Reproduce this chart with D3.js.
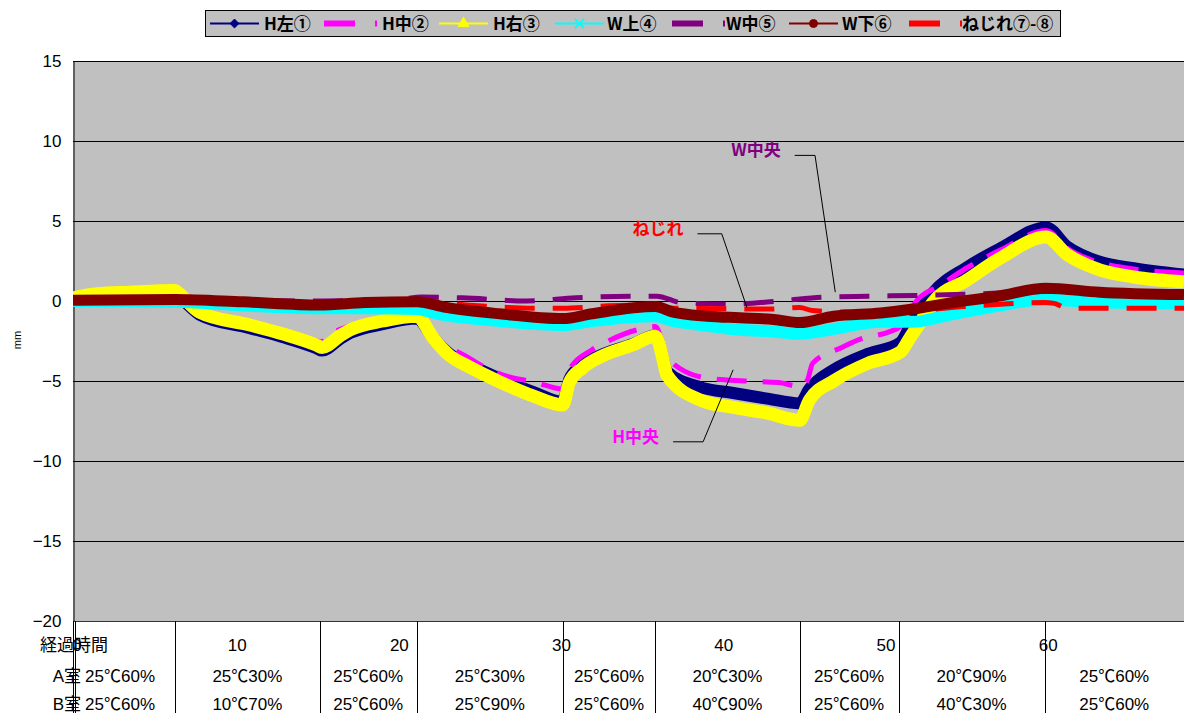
<!DOCTYPE html>
<html>
<head>
<meta charset="utf-8">
<script src="https://cdn.jsdelivr.net/npm/d3@7"></script>
<style>
  body { margin: 0; background: #fff; }
  svg { display: block; }
  .num { font-family: "Liberation Sans", "Noto Sans CJK JP", sans-serif; font-size: 17px; }
  .jp { font-family: "Noto Sans CJK JP", sans-serif; font-weight: bold; font-size: 17px; }
</style>
</head>
<body>
<div id="chart"></div>
<script>
// ---- data: [elapsed time, displacement mm] ----
const hLeft = [[0,0.15],[3,0.3],[6.3,0.35],[6.5,0.25],[7.8,-0.85],[10.9,-1.7],[12.9,-2.25],[15,-2.95],[15.35,-3.1],[16.5,-2.35],[17.1,-2.0],[19.1,-1.45],[21.2,-1.1],
  [22.2,-2.3],[23.2,-3.3],[24.3,-3.9],[26.3,-4.85],[28.4,-5.7],[30.2,-6.3],[30.6,-4.9],[31.4,-4.0],[32.5,-3.4],[34.5,-2.7],[35.9,-2.15],
  [36.5,-4.1],[36.6,-4.4],[38.7,-5.4],[40.7,-5.75],[42.8,-6.1],[44.8,-6.4],[45.4,-5.5],[46.9,-4.3],[49,-3.3],[51,-2.6],[51.6,-1.6],
  [52.2,-0.6],[53,0.5],[55.1,2.1],[57.2,3.3],[60,4.6],[61.3,3.4],[63.3,2.45],[65.4,2.05],[68.5,1.65]];
const hMid = [[0,0.1],[6.3,0.3],[6.5,0.3],[7.8,-0.5],[10.9,-1.3],[12.9,-1.85],[15,-2.5],[15.3,-2.55],[16,-2.0],[17.1,-1.55],[19.1,-1.05],[21.2,-0.8],
  [22.6,-2.45],[24.3,-3.5],[25.3,-4.1],[26.9,-4.75],[28.4,-5.05],[30.2,-5.5],[30.6,-4.3],[32,-3.05],[33.1,-2.45],[34.8,-1.8],[35.9,-1.6],
  [36.6,-3.4],[37.4,-4.2],[39.3,-4.85],[41.4,-5.0],[43.5,-5.1],[44.9,-5.35],[45.3,-4.9],[45.6,-3.9],[47.4,-2.9],[48.5,-2.4],[50.4,-1.9],[51,-1.6],
  [52,0.0],[53.5,1.0],[55,2.0],[57.2,3.2],[60,4.4],[61.3,3.3],[63.3,2.4],[65.4,2.0],[68.5,1.75]];
const hRight = [[0,0.2],[1.5,0.45],[3.5,0.55],[6.3,0.65],[6.5,0.5],[7.8,-0.7],[10.9,-1.5],[12.9,-2.05],[15,-2.75],[15.35,-2.9],[16.5,-2.15],[17.1,-1.8],[19.1,-1.25],[21.2,-0.95],
  [22.2,-2.3],[23.2,-3.4],[24.3,-4.05],[26.3,-5.05],[28.4,-5.95],[30.2,-6.5],[30.6,-5.1],[31.4,-4.2],[32.5,-3.5],[34.5,-2.75],[35.9,-2.2],
  [36.5,-4.2],[36.6,-4.6],[38.7,-6.2],[40.7,-6.65],[42.8,-7.0],[44.8,-7.45],[45.4,-6.2],[46.9,-5.0],[49,-3.9],[51,-3.2],[51.6,-2.3],
  [52.2,-1.4],[53,-0.1],[55.1,1.3],[57.2,2.7],[60,4.0],[61.3,2.9],[63.3,1.95],[65.4,1.5],[68.5,1.2]];
const wTop = [[0,0.0],[6.3,-0.05],[10,-0.25],[15.2,-0.45],[18,-0.45],[21.2,-0.5],[22.5,-0.8],[26.3,-1.25],[30.2,-1.5],[32,-1.25],[35.9,-0.95],
  [37,-1.25],[39.1,-1.55],[41.1,-1.8],[43.2,-1.9],[44.8,-2.05],[46.9,-1.75],[49.8,-1.3],[51.8,-1.3],[53.9,-0.9],[57,-0.3],[60,0.1],[63.3,-0.1],[68.5,-0.15]];
const wMid = [[0,0.0],[6.3,0.1],[15.2,0.0],[20,0.1],[21.5,0.25],[24,0.2],[28,0.0],[31,0.2],[35,0.3],[36,0.3],[37.5,-0.1],[40.5,-0.2],
  [43.5,0.0],[46.5,0.25],[49,0.3],[52,0.35],[56,0.45],[60,0.6],[68.5,0.5]];
const wBottom = [[0,0.05],[6.3,0.1],[10.5,-0.05],[15.2,-0.25],[18,-0.1],[21.2,-0.05],[23,-0.4],[26.3,-0.8],[30.2,-1.1],[32,-0.8],[35.9,-0.35],
  [37,-0.7],[39.1,-0.95],[41.1,-1.05],[43.2,-1.15],[44.8,-1.35],[46.9,-0.95],[49.8,-0.75],[51.8,-0.5],[53.9,-0.15],[57,0.3],[60,0.8],[63.3,0.55],[68.5,0.4]];
const twist = [[0,0.0],[6.3,0.05],[15.2,-0.1],[21.2,0.0],[25,-0.3],[28.4,-0.45],[30.2,-0.45],[33,-0.3],[35.9,-0.25],[37,-0.45],[43,-0.5],
  [44.8,-0.4],[45.6,-0.6],[48.5,-0.7],[51,-0.65],[55,-0.35],[59.9,-0.1],[60.5,-0.15],[61.3,-0.45],[68.5,-0.45]];

const seriesNames = ["H左①", "H中②", "H右③", "W上④", "W中⑤", "W下⑥", "ねじれ⑦-⑧"];
const seriesColors = ["#000080", "#ff00ff", "#ffff00", "#00ffff", "#800080", "#800000", "#ff0000"];

// condition table under the x axis
const xTicks = [0, 10, 20, 30, 40, 50, 60];
const phaseBounds = [0, 6.3, 15.2, 21.2, 30.2, 35.9, 44.8, 50.9, 59.9, 68.5];
const roomA = ["25℃60%", "25℃30%", "25℃60%", "25℃30%", "25℃60%", "20℃30%", "25℃60%", "20℃90%", "25℃60%"];
const roomB = ["25℃60%", "10℃70%", "25℃60%", "25℃90%", "25℃60%", "40℃90%", "25℃60%", "40℃30%", "25℃60%"];

// callout labels: text, colour, leader elbow [t, v] points
const notes = [
  { text: "W中央", color: "#800080", pts: [[44.5, 9.1], [45.75, 9.1], [47.0, 0.55]] },
  { text: "ねじれ", color: "#ff0000", pts: [[38.5, 4.2], [40.0, 4.2], [41.55, -0.4]] },
  { text: "H中央", color: "#ff00ff", pts: [[37.0, -8.8], [38.85, -8.8], [40.7, -4.3]] }
];

const width = 1184, height = 713;
const plot = { left: 73, right: 1184, top: 61, bottom: 621 };

const svg = d3.select("#chart").append("svg")
  .attr("width", width).attr("height", height);

const x = d3.scaleLinear().domain([0, 68.5]).range([plot.left, plot.right]);
const y = d3.scaleLinear().domain([-20, 15]).range([plot.bottom, plot.top]);

// plot background
svg.append("rect")
  .attr("x", plot.left).attr("y", plot.top)
  .attr("width", plot.right - plot.left).attr("height", plot.bottom - plot.top)
  .attr("fill", "#c0c0c0");

svg.append("clipPath").attr("id", "clip").append("rect")
  .attr("x", plot.left).attr("y", plot.top)
  .attr("width", plot.right - plot.left).attr("height", plot.bottom - plot.top);

// horizontal grid
svg.append("g")
  .selectAll("line")
  .data(d3.range(-15, 16, 5))
  .join("line")
  .attr("x1", plot.left).attr("x2", plot.right)
  .attr("y1", d => Math.round(y(d)) + 0.5).attr("y2", d => Math.round(y(d)) + 0.5)
  .attr("stroke", "#000").attr("stroke-width", 1);

// y axis
const yAxis = svg.append("g")
  .attr("transform", `translate(${plot.left + 0.5},0)`)
  .call(d3.axisLeft(y).tickValues(d3.range(-20, 16, 5)).tickSize(0).tickPadding(12));
yAxis.select(".domain").attr("stroke", "#000");
yAxis.selectAll("text").attr("class", "num").attr("fill", "#000");

svg.append("text")
  .attr("transform", `translate(21,340) rotate(-90)`)
  .attr("text-anchor", "middle")
  .style("font-family", "Liberation Sans, sans-serif").style("font-size", "11px")
  .text("mm");

// x axis line
svg.append("line")
  .attr("x1", plot.left).attr("x2", plot.right)
  .attr("y1", plot.bottom + 0.5).attr("y2", plot.bottom + 0.5)
  .attr("stroke", "#333");

// table separators under the plot
svg.append("g")
  .selectAll("line")
  .data(phaseBounds.slice(0, -1))
  .join("line")
  .attr("x1", (d, i) => i === 0 ? x(d) + 2.5 : Math.round(x(d)) + 0.5)
  .attr("x2", (d, i) => i === 0 ? x(d) + 2.5 : Math.round(x(d)) + 0.5)
  .attr("y1", plot.bottom).attr("y2", height)
  .attr("stroke", "#000");

svg.append("line")
  .attr("x1", plot.left + 0.5).attr("x2", plot.left + 0.5)
  .attr("y1", plot.bottom).attr("y2", height)
  .attr("stroke", "#000");

// x tick labels
svg.append("g")
  .selectAll("text")
  .data(xTicks)
  .join("text")
  .attr("class", "num")
  .attr("x", d => x(d) + (d === 0 ? 4 : 2))
  .attr("y", 651)
  .attr("text-anchor", "middle")
  .text(d => d);

const rowLabels = svg.append("g").attr("class", "num");
rowLabels.append("text").attr("x", 74).attr("y", 651).attr("text-anchor", "middle").text("経過時間");
rowLabels.append("text").attr("x", 81).attr("y", 682).attr("text-anchor", "end").text("A室");
rowLabels.append("text").attr("x", 81).attr("y", 710).attr("text-anchor", "end").text("B室");

function drawRow(labels, yPos) {
  svg.append("g")
    .selectAll("text")
    .data(labels)
    .join("text")
    .attr("class", "num")
    .attr("x", (d, i) => (x(phaseBounds[i]) + x(phaseBounds[i + 1])) / 2 + (i === 0 ? -4 : 0))
    .attr("y", yPos)
    .attr("text-anchor", "middle")
    .text(d => d);
}
drawRow(roomA, 682);
drawRow(roomB, 710);

// series lines (twist drawn under W下 so it hides near zero, as in the source)
const line = d3.line().x(d => x(d[0])).y(d => y(d[1])).curve(d3.curveMonotoneX);
const seriesData = [hLeft, hMid, hRight, wTop, wMid, wBottom, twist];
const widths = [12, 5, 13, 12, 5, 11, 5];
const dashes = [null, "30,16", null, null, "30,18", null, "30,18"];
const drawOrder = [0, 1, 2, 3, 4, 6, 5];

const lines = svg.append("g").attr("clip-path", "url(#clip)");
drawOrder.forEach(i => {
  lines.append("path")
    .datum(seriesData[i])
    .attr("fill", "none")
    .attr("stroke", seriesColors[i])
    .attr("stroke-width", widths[i])
    .attr("stroke-linejoin", "round")
    .attr("stroke-dasharray", dashes[i])
    .attr("d", line);
});

// callouts
notes.forEach(n => {
  const p = n.pts.map(d => [x(d[0]), y(d[1])]);
  svg.append("path")
    .attr("d", d3.line()(p))
    .attr("fill", "none")
    .attr("stroke", "#000")
    .attr("stroke-width", 1);
  svg.append("text")
    .attr("class", "jp")
    .attr("x", p[0][0] - 14)
    .attr("y", p[0][1] + 1)
    .attr("text-anchor", "end")
    .attr("fill", n.color)
    .text(n.text);
});

// legend
const legend = svg.append("g");
legend.append("rect")
  .attr("x", 205.5).attr("y", 10.5).attr("width", 855).attr("height", 26)
  .attr("fill", "#c0c0c0").attr("stroke", "#000");

const legendX = [210, 324, 439, 555, 672, 789, 909];
const textX = [264, 382, 493, 607, 726, 842, 962];
const ly = 23.5;
seriesNames.forEach((name, i) => {
  const g = legend.append("g");
  const x0 = legendX[i];
  if (dashes[i]) {
    g.append("line")
      .attr("x1", x0).attr("x2", x0 + 53).attr("y1", ly).attr("y2", ly)
      .attr("stroke", seriesColors[i]).attr("stroke-width", 6)
      .attr("stroke-dasharray", "31,20");
  } else {
    g.append("line")
      .attr("x1", x0).attr("x2", x0 + 49).attr("y1", ly).attr("y2", ly)
      .attr("stroke", seriesColors[i]).attr("stroke-width", 2);
    const cx = x0 + 24.5;
    const sym = [d3.symbolDiamond2, null, d3.symbolTriangle, d3.symbolX][i] || (i === 5 ? d3.symbolCircle : null);
    g.append("path")
      .attr("transform", `translate(${cx},${ly})`)
      .attr("d", d3.symbol(sym, i === 3 ? 60 : 50)())
      .attr("fill", i === 3 ? "none" : seriesColors[i])
      .attr("stroke", seriesColors[i])
      .attr("stroke-width", i === 3 ? 2 : 1);
  }
  g.append("text")
    .attr("class", "jp")
    .attr("x", textX[i])
    .attr("y", ly + 6)
    .attr("fill", "#000")
    .text(name);
});
</script>
</body>
</html>
